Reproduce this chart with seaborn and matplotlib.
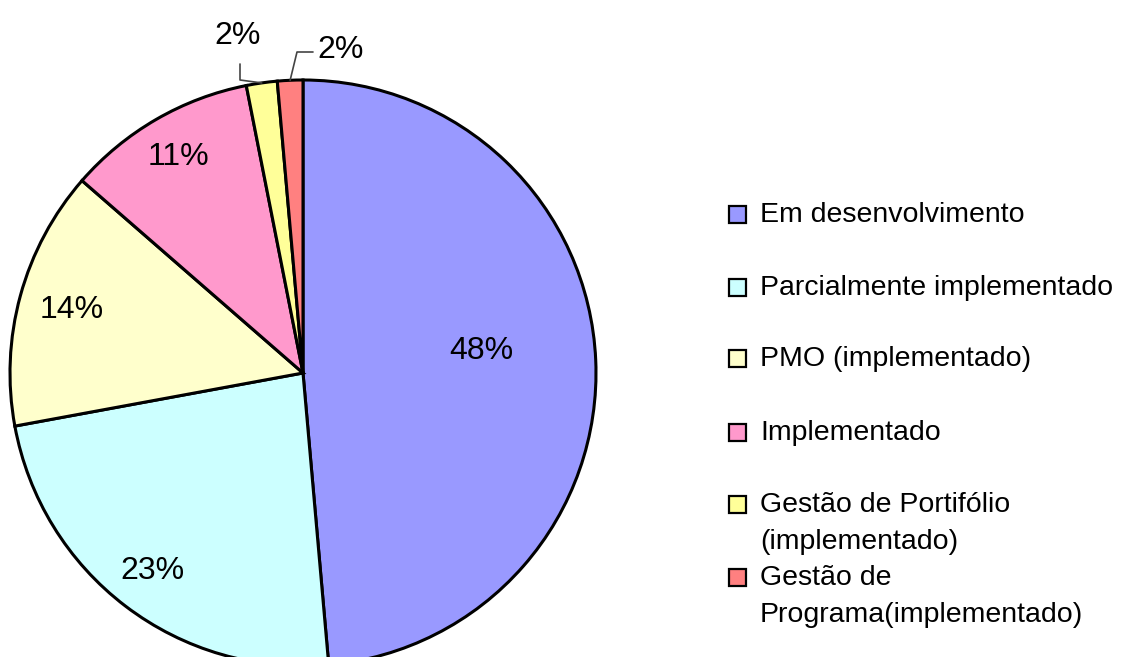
import numpy as np
import matplotlib
matplotlib.use('Agg')
import matplotlib.pyplot as plt
import seaborn as sns
from matplotlib.patches import Rectangle

categories = ['Em desenvolvimento', 'Parcialmente implementado', 'PMO (implementado)',
              'Implementado', 'Gestão de Portifólio\n(implementado)',
              'Gestão de\nPrograma(implementado)']
values = [48.6, 23.5, 14.3, 10.5, 1.7, 1.4]
pct_labels = ['48%', '23%', '14%', '11%', '2%', '2%']
colors = ['#9999FF', '#CCFFFF', '#FFFFCC', '#FF99CC', '#FFFF99', '#FF8080']

sns.set_theme(style='white')
plt.rcParams['font.family'] = ['Liberation Sans', 'DejaVu Sans']
plt.rcParams['text.color'] = 'black'

W, H = 1124, 657
fig = plt.figure(figsize=(W / 100, H / 100), dpi=100)
ax = fig.add_axes([0, 0, 1, 1])

cx, cy, r = 303, H - 373, 293
wedges, _ = ax.pie(values, colors=colors, startangle=90, counterclock=False,
                   center=(cx, cy), radius=r,
                   wedgeprops=dict(edgecolor='black', linewidth=2.2))
ax.set_xlim(0, W)
ax.set_ylim(0, H)
ax.set_aspect('equal')
ax.axis('off')

# labels inside the big slices
label_dist = [0.61, 0.85, 0.82, 0.85]
label_shift = [14, 0, 0, 0]
for w, lab, d, s in zip(wedges[:4], pct_labels[:4], label_dist, label_shift):
    mid = np.deg2rad((w.theta1 + w.theta2) / 2)
    ax.text(cx + d * r * np.cos(mid), cy + d * r * np.sin(mid) + s, lab,
            ha='center', va='center', fontsize=23)

# small slices with leader lines
w = wedges[4]
mid = np.deg2rad((w.theta1 + w.theta2) / 2)
px, py = cx + r * np.cos(mid), cy + r * np.sin(mid)
ax.plot([px, 240, 240], [py, H - 80, H - 64], color='#444444', lw=1.2)
ax.text(238, H - 36, pct_labels[4], ha='center', va='center', fontsize=23)

w = wedges[5]
mid = np.deg2rad((w.theta1 + w.theta2) / 2)
px, py = cx + r * np.cos(mid), cy + r * np.sin(mid)
ax.plot([px, 297, 313], [py, H - 52, H - 52], color='#444444', lw=1.2)
ax.text(317, H - 50, pct_labels[5], ha='left', va='center', fontsize=23)

# legend
rows = [214, 287, 358, 432, 504, 577]
for lab, c, y in zip(categories, colors, rows):
    ax.add_patch(Rectangle((729, H - y - 9), 17, 17, facecolor=c,
                           edgecolor='black', linewidth=1.6))
    ax.text(760, H - y + 12, lab, ha='left', va='top', fontsize=20.5,
            linespacing=1.55)

fig.savefig('out.png', dpi=100)
